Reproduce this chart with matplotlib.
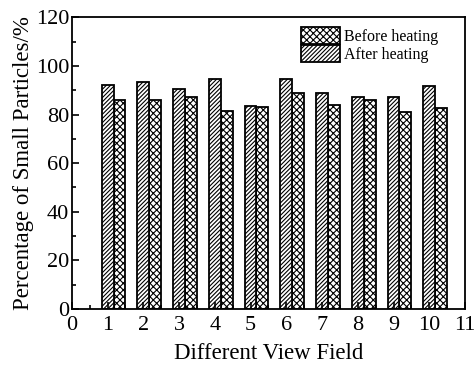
import matplotlib as mpl
mpl.use('Agg')
import matplotlib.pyplot as plt
import numpy as np
from matplotlib.ticker import MultipleLocator

plt.rcParams['font.family'] = ['Liberation Serif', 'DejaVu Serif']
plt.rcParams['hatch.linewidth'] = 0.8

fields = [1, 2, 3, 4, 5, 6, 7, 8, 9, 10]
after_heating = [92.3, 93.2, 90.3, 94.5, 83.7, 94.5, 88.8, 87.2, 87.2, 91.6]
before_heating = [86.0, 86.0, 87.3, 81.6, 83.2, 88.8, 83.8, 86.0, 81.0, 82.5]

x = np.array(fields)
w = 0.33

fig = plt.figure(figsize=(4.76, 3.69), dpi=100)
ax = fig.add_axes([0.151, 0.163, 0.826, 0.79])

ax.bar(x + w, before_heating, w, color='white', edgecolor='black',
       linewidth=1.3, hatch='xxxxx', label='Before heating')
ax.bar(x, after_heating, w, color='white', edgecolor='black',
       linewidth=1.3, hatch='////////', label='After heating')

ax.set_xlim(0, 11)
ax.set_ylim(0, 120)
ax.set_xticks(range(0, 12))
ax.xaxis.set_minor_locator(MultipleLocator(0.5))
ax.yaxis.set_major_locator(MultipleLocator(20))
ax.yaxis.set_minor_locator(MultipleLocator(10))
ax.tick_params(which='both', direction='in', top=False, right=False,
               labelsize=16, width=1.2)
ax.tick_params(which='major', length=5)
ax.tick_params(axis='x', pad=5)
ax.tick_params(axis='y', pad=2)
ax.tick_params(which='minor', length=3)
for s in ax.spines.values():
    s.set_linewidth(1.3)

ax.set_xlabel('Different View Field', fontsize=16.5, labelpad=6)
ax.set_ylabel('Percentage of Small Particles/%', fontsize=16.5, labelpad=1)

leg = ax.legend(loc='upper right', frameon=False, fontsize=11.5,
                handlelength=2.5, handleheight=1.3, labelspacing=0.0,
                handletextpad=0.2, borderaxespad=0.2, bbox_to_anchor=(0.955, 1.0))

fig.savefig('out.png', dpi=100)
